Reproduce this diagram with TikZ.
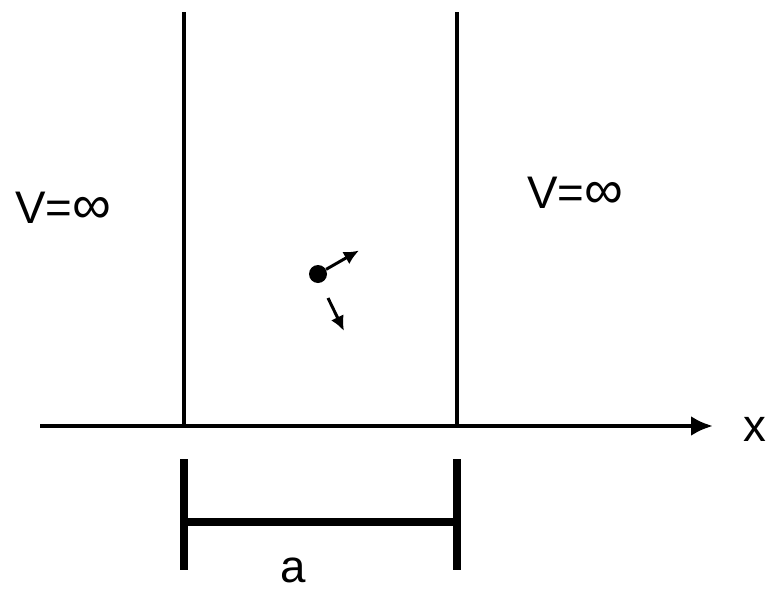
\documentclass[tikz,border=0pt]{standalone}
\usepackage{fontspec}
\setmainfont{Liberation Sans}
\usetikzlibrary{positioning,arrows.meta}
\newcommand{\infsym}{{\fontsize{31}{30}\selectfont ∞}}

\begin{document}
\begin{tikzpicture}[>={Latex[length=0.44cm,width=0.40cm]}, font=\fontsize{26}{30}\selectfont]
        \tikzset{wall/.style={line width=2.3pt},
                 axis/.style={line width=2.8pt},
                 span/.style={line width=4pt},
                 vel/.style={line width=1.7pt,
                             -{Latex[length=0.3cm,width=0.28cm]}}}
        \useasboundingbox (0,0) rectangle (15.38,11.82);
        %% Paredes del pozo
        \coordinate (lt) at (3.68,11.58);
        \coordinate (lb) at (3.68,3.30);
        \coordinate (rt) at (9.14,11.58);
        \coordinate (rb) at (9.14,3.30);
        \draw[wall] (lt) -- (lb);
        \draw[wall] (rt) -- (rb);
        %% Eje x
        \coordinate (x0) at (0.8,3.30);
        \coordinate (x1) at (14.26,3.30);
        \draw[axis,->] (x0) -- (x1);
        \node (xlbl) at (15.1,3.24) {x};
        %% Potencial infinito
        \node (vl) at (1.26,7.66) {V=\infsym};
        \node (vr) at (11.5,7.96) {V=\infsym};
        %% Particula
        \node[circle, fill, inner sep=0pt, minimum size=0.36cm] (p) at (6.36,6.34) {};
        \coordinate (v1) at (7.18,6.81);
        \coordinate (v2a) at (6.56,5.86);
        \coordinate (v2b) at (6.88,5.2);
        \draw[vel] (p) -- (v1);
        \draw[vel] (v2a) -- (v2b);
        %% Ancho a
        \coordinate (al) at (3.68,1.38);
        \coordinate (ar) at (9.14,1.38);
        \draw[span] (3.68,2.64) -- (3.68,0.42);
        \draw[span] (9.14,2.64) -- (9.14,0.42);
        \draw[span] (al) -- (ar);
        \node[inner sep=0pt] (albl) at (5.86,0.42) {a};
    \end{tikzpicture}
\end{document}
